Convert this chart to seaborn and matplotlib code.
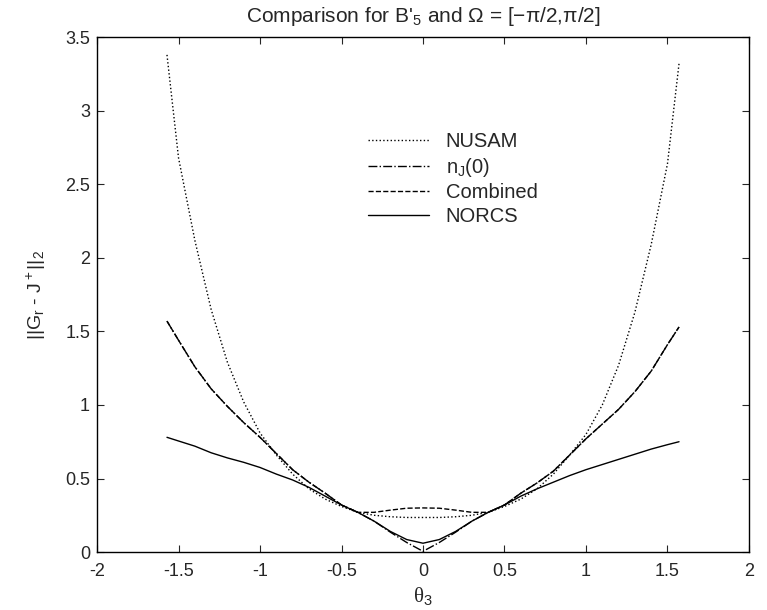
import numpy as np
import pandas as pd
import matplotlib
matplotlib.use("Agg")
import matplotlib.pyplot as plt
import seaborn as sns

theta3 = [-1.5708, -1.5, -1.4, -1.3, -1.2, -1.1, -1.0, -0.9, -0.8, -0.7, -0.6, -0.5, -0.4,
          -0.3, -0.2, -0.1, 0.0, 0.1, 0.2, 0.3, 0.4, 0.5, 0.6, 0.7, 0.8, 0.9, 1.0,
          1.1, 1.2, 1.3, 1.4, 1.5, 1.5708]

nusam = [3.38, 2.68, 2.12, 1.65, 1.29, 1.02, 0.81, 0.66, 0.53, 0.43, 0.36, 0.31, 0.27,
         0.25, 0.24, 0.235, 0.235, 0.235, 0.24, 0.25, 0.27, 0.31, 0.36, 0.43, 0.53, 0.66, 0.80,
         1.00, 1.27, 1.63, 2.09, 2.64, 3.32]

nj0 = [1.57, 1.44, 1.26, 1.11, 0.99, 0.88, 0.78, 0.67, 0.56, 0.475, 0.40, 0.32, 0.27,
       0.21, 0.135, 0.065, 0.005, 0.065, 0.135, 0.21, 0.27, 0.32, 0.40, 0.47, 0.55, 0.66, 0.77,
       0.87, 0.97, 1.09, 1.23, 1.41, 1.53]

combined = [1.57, 1.44, 1.26, 1.11, 0.99, 0.88, 0.78, 0.67, 0.56, 0.475, 0.40, 0.32, 0.27,
            0.27, 0.285, 0.298, 0.30, 0.298, 0.285, 0.27, 0.27, 0.32, 0.40, 0.47, 0.55, 0.66, 0.77,
            0.87, 0.97, 1.09, 1.23, 1.41, 1.53]

norcs = [0.78, 0.755, 0.72, 0.675, 0.64, 0.61, 0.575, 0.53, 0.49, 0.44, 0.38, 0.32, 0.27,
         0.21, 0.14, 0.085, 0.06, 0.085, 0.14, 0.21, 0.27, 0.32, 0.38, 0.43, 0.475, 0.52, 0.56,
         0.595, 0.63, 0.665, 0.70, 0.73, 0.75]

series = [("NUSAM", nusam, ":"), ("n$_J$(0)", nj0, "-."), ("Combined", combined, "--"), ("NORCS", norcs, "-")]

sns.set_style("ticks")
plt.rcParams["font.family"] = ["Liberation Sans", "DejaVu Sans"]
plt.rcParams["axes.unicode_minus"] = False
plt.rcParams["mathtext.fontset"] = "custom"
plt.rcParams["mathtext.rm"] = "Liberation Sans"
plt.rcParams["mathtext.it"] = "Liberation Sans"

fig = plt.figure(figsize=(7.67, 6.10), dpi=100)
ax = fig.add_axes([0.1265, 0.095, 0.85, 0.844])

for name, vals, ls in series:
    df = pd.DataFrame({"theta": theta3, "val": vals})
    sns.lineplot(data=df, x="theta", y="val", ax=ax, color="black", linestyle=ls,
                 linewidth=1.0, label=name, estimator=None)

ax.set_xlim(-2, 2)
ax.set_ylim(0, 3.5)
ax.set_xticks(np.arange(-2, 2.01, 0.5))
ax.set_yticks(np.arange(0, 3.51, 0.5))
ax.set_xticklabels(["-2", "-1.5", "-1", "-0.5", "0", "0.5", "1", "1.5", "2"])
ax.set_yticklabels(["0", "0.5", "1", "1.5", "2", "2.5", "3", "3.5"])
ax.tick_params(direction="in", top=True, right=True, labelsize=13, length=5, width=0.8)
ax.tick_params(axis="x", pad=8)
ax.tick_params(axis="y", pad=5)
for sp in ax.spines.values():
    sp.set_linewidth(1.0)
    sp.set_color("black")

ax.set_title("Comparison for B'$_5$ and Ω = [−π/2,π/2]", fontsize=15, pad=11)
ax.set_xlabel("θ$_3$", fontsize=15, labelpad=4, family="Liberation Serif")
ax.set_ylabel("||G$_r$ - J$^+$||$_2$", fontsize=14, labelpad=12)

ax.legend(loc="upper left", bbox_to_anchor=(0.416, 0.815), frameon=False, fontsize=14.5,
          handlelength=3.0, handletextpad=0.85, labelspacing=0.22, borderpad=0,
          borderaxespad=0)

fig.savefig("out.png", dpi=100)
